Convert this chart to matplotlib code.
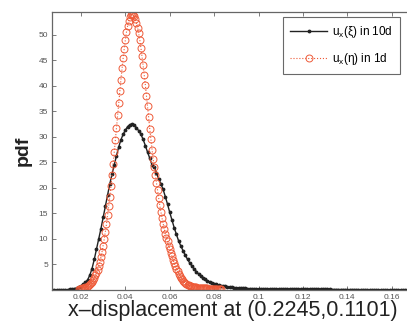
import numpy as np
import matplotlib
matplotlib.use("Agg")
import matplotlib.pyplot as plt

# pdf of u_x(xi) in 10d, sampled every 0.001 starting at 0.007
black_start, black_step = 0.007, 0.001
black_pdf = [
    0.0, 0.0, 0.0, 0.0, 0.02, 0.03, 0.05, 0.07, 0.1, 0.15,
    0.25, 0.4, 0.6, 0.85, 1.1, 1.5, 2.0, 2.9, 4.2, 6.0,
    8.0, 10.0, 12.0, 14.2, 16.5, 18.7, 20.8, 22.7, 24.5, 26.3,
    28.0, 29.4, 30.5, 31.3, 32.0, 32.4, 32.5, 32.3, 31.8, 31.2,
    30.5, 29.5, 28.3, 27.0, 25.8, 24.5, 24.0, 22.9, 21.8, 20.8,
    19.7, 18.3, 16.8, 15.2, 13.7, 12.2, 10.9, 9.6, 8.6, 7.7,
    6.8, 6.0, 5.3, 4.7, 4.1, 3.6, 3.1, 2.7, 2.4, 2.1,
    1.8, 1.6, 1.4, 1.25, 1.1, 0.97, 0.85, 0.76, 0.68, 0.61,
    0.55, 0.5, 0.45, 0.41, 0.38, 0.35, 0.32, 0.3, 0.28, 0.26,
    0.25, 0.24, 0.23, 0.22,
    0.21, 0.2, 0.2, 0.19, 0.18, 0.18, 0.17, 0.17, 0.16, 0.16,
    0.15, 0.15, 0.14, 0.14, 0.14, 0.13, 0.13, 0.13, 0.12, 0.12,
    0.12, 0.11, 0.11, 0.11, 0.1, 0.1, 0.1, 0.1, 0.09, 0.09,
    0.09, 0.09, 0.08, 0.08, 0.08, 0.08, 0.08, 0.07, 0.07, 0.07,
    0.07, 0.07, 0.06, 0.06, 0.06, 0.06, 0.06, 0.06, 0.05, 0.05,
    0.05, 0.05, 0.05, 0.05, 0.05, 0.04, 0.04, 0.04, 0.04, 0.04,
    0.04, 0.04, 0.04, 0.03, 0.03, 0.03, 0.03, 0.03, 0.03, 0.03,
    0.03, 0.03, 0.03, 0.03, 0.03,
]

# pdf of u_x(eta) in 1d, sampled every 0.0005 starting at 0.019
red_start, red_step = 0.019, 0.0005
red_pdf = [
    0.2, 0.22, 0.26, 0.3, 0.35, 0.42, 0.5, 0.6, 0.75, 0.9,
    1.1, 1.35, 1.6, 1.97, 2.4, 2.85, 3.4, 4.0, 4.7, 5.5,
    6.5, 7.5, 8.7, 10.0, 11.4, 12.9, 14.6, 16.4, 18.3, 20.3,
    22.5, 24.7, 27.0, 29.4, 31.8, 34.3, 36.6, 38.9, 41.2, 43.4,
    45.4, 47.3, 49.0, 50.5, 51.7, 52.7, 53.4, 53.85, 54.0,
    53.9, 53.6, 53.0, 52.3, 51.4, 50.3, 49.0, 47.5, 45.8, 44.0,
    42.1, 40.2, 38.1, 36.0, 33.8, 31.5, 29.5, 27.5, 25.7, 24.0,
    22.5, 21.0, 19.5, 18.0, 16.6, 15.3, 14.1, 13.0, 12.0, 11.0,
    10.2, 9.5, 8.7, 8.0, 7.3, 6.6, 5.9, 5.3, 4.7, 4.2,
    3.7, 3.2, 2.8, 2.4, 2.1, 1.8, 1.55, 1.3, 1.15, 1.0,
    0.9, 0.8, 0.72, 0.65, 0.6, 0.55, 0.52, 0.5, 0.47, 0.45,
    0.43, 0.4, 0.38, 0.36, 0.34, 0.32, 0.3, 0.29, 0.28, 0.27,
    0.26, 0.25, 0.24, 0.23, 0.22, 0.21, 0.2, 0.2, 0.19, 0.18,
]

black_x = black_start + black_step * np.arange(len(black_pdf))
red_x = red_start + red_step * np.arange(len(red_pdf))

xticks = [0.02, 0.04, 0.06, 0.08, 0.1, 0.12, 0.14, 0.16]
xtick_labels = ["0.02", "0.04", "0.06", "0.08", "0.1", "0.12", "0.14", "0.16"]
yticks = [5, 10, 15, 20, 25, 30, 35, 40, 45, 50]

plt.rcParams["font.family"] = ["Liberation Sans", "DejaVu Sans"]
plt.rcParams["mathtext.default"] = "regular"

fig = plt.figure(figsize=(4.07, 3.28), dpi=100)
ax = fig.add_axes([0.128, 0.116, 0.889, 0.848])

ax.plot(black_x, black_pdf, "-", color="#222222", lw=1.0, marker=".", ms=3.5,
        label=r"$u_x(\xi)$ in 10d")
ax.plot(red_x, red_pdf, ":", color="#ee5a38", lw=0.8, marker="o", ms=5,
        mfc="none", mew=0.7, label=r"$u_x(\eta)$ in 1d")

ax.set_xlim(0.007, 0.17)
ax.set_ylim(0, 54.5)
ax.set_xticks(xticks)
ax.set_xticklabels(xtick_labels)
ax.set_yticks(yticks)
ax.tick_params(direction="in", length=3, width=0.6, labelsize=6,
               labelcolor="#555555", color="#666666", top=True, right=True, pad=3)
for s in ax.spines.values():
    s.set_color("#666666")
    s.set_linewidth(0.9)

ax.set_xlabel("x\u2013displacement at (0.2245,0.1101)", fontsize=15.5, labelpad=-1,
              color="#222222")
ax.set_ylabel("pdf", fontsize=14, fontweight="bold", labelpad=5, color="#222222")

leg = ax.legend(loc="upper right", bbox_to_anchor=(400 / 407, 1 - 17 / 328),
                bbox_transform=fig.transFigure, borderaxespad=0, fontsize=8.5,
                frameon=True, fancybox=False, handlelength=3.2, handletextpad=0.4,
                borderpad=0.6, labelspacing=0.9)
leg.get_frame().set_edgecolor("#444444")
leg.get_frame().set_linewidth(0.8)

fig.savefig("out.png", dpi=100)
